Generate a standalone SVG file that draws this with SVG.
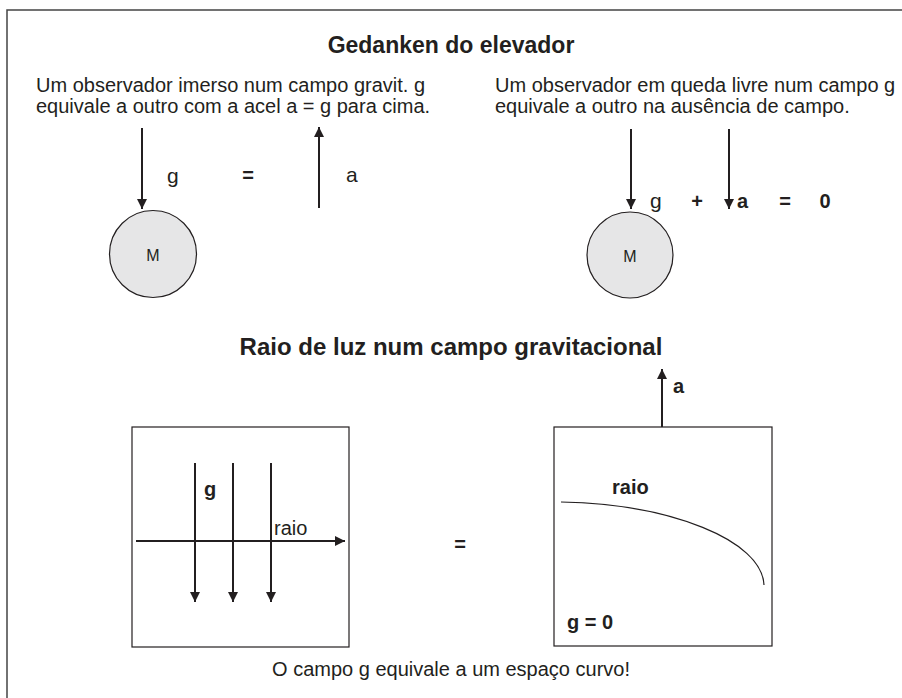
<svg xmlns="http://www.w3.org/2000/svg" width="902" height="698" viewBox="0 0 902 698">
<style>
text{font-family:"Liberation Sans",Arial,sans-serif;fill:#231f20}
.t{font-weight:bold;text-anchor:middle}
.p{font-size:20px}
.ln{stroke:#231f20;stroke-width:2;fill:none}
.box{stroke:#231f20;stroke-width:1.2;fill:none}
.planet{fill:#e6e6e7;stroke:#231f20;stroke-width:1.2}
</style>
<defs>
<marker id="ah" viewBox="0 0 10 10" refX="10" refY="5" markerWidth="10" markerHeight="10" markerUnits="userSpaceOnUse" orient="auto">
<path d="M0,0 L10,5 L0,10 z" fill="#231f20"/>
</marker>
</defs>
<rect width="902" height="698" fill="#fff"/>
<path d="M7,698 V10 H902" fill="none" stroke="#444" stroke-width="1.5"/>
<text class="t" x="451" y="53" font-size="23">Gedanken do elevador</text>
<g id="text-left">
<text class="p" x="36" y="92">Um observador imerso num campo gravit. g</text>
<text class="p" x="36" y="113">equivale a outro com a acel a = g para cima.</text>
</g>
<g id="text-right">
<text class="p" x="495" y="92">Um observador em queda livre num campo g</text>
<text class="p" x="495" y="113">equivale a outro na ausência de campo.</text>
</g>
<g id="planet-left">
<circle class="planet" cx="153" cy="254" r="43.5"/>
<text x="153" y="261" font-size="16" text-anchor="middle">M</text>
</g>
<g id="planet-right">
<circle class="planet" cx="630" cy="255" r="43"/>
<text x="630" y="262" font-size="16" text-anchor="middle">M</text>
</g>
<g id="box-left">
<rect class="box" x="132" y="427" width="217" height="220"/>
</g>
<g id="box-right">
<rect class="box" x="554" y="427" width="218" height="219"/>
<path d="M561,502 C670,504 762,540 764,585" stroke="#231f20" stroke-width="1.2" fill="none"/>
</g>
<g id="connectors">
<line class="ln" x1="142" y1="128" x2="142" y2="209" marker-end="url(#ah)"/>
<line class="ln" x1="319" y1="208" x2="319" y2="127" marker-end="url(#ah)"/>
<line class="ln" x1="631" y1="129" x2="631" y2="209" marker-end="url(#ah)"/>
<line class="ln" x1="729" y1="129" x2="729" y2="209" marker-end="url(#ah)"/>
<line class="ln" x1="195" y1="463" x2="195" y2="602" marker-end="url(#ah)"/>
<line class="ln" x1="233" y1="463" x2="233" y2="602" marker-end="url(#ah)"/>
<line class="ln" x1="271" y1="463" x2="271" y2="602" marker-end="url(#ah)"/>
<line class="ln" x1="136" y1="541" x2="345" y2="541" marker-end="url(#ah)"/>
<line class="ln" x1="662" y1="427" x2="662" y2="369" marker-end="url(#ah)"/>
</g>
<g id="labels">
<text x="167" y="183" font-size="21">g</text>
<text x="248" y="182" font-size="20" font-weight="bold" text-anchor="middle">=</text>
<text x="346" y="182" font-size="21">a</text>
<text x="650" y="208" font-size="21">g</text>
<text x="697" y="208" font-size="20" font-weight="bold" text-anchor="middle">+</text>
<text x="737" y="208" font-size="20" font-weight="bold">a</text>
<text x="785" y="208" font-size="20" font-weight="bold" text-anchor="middle">=</text>
<text x="825" y="208" font-size="20" font-weight="bold" text-anchor="middle">0</text>
<text class="t" x="451" y="355" font-size="24">Raio de luz num campo gravitacional</text>
<text x="204" y="496" font-size="20" font-weight="bold">g</text>
<text x="274" y="535" font-size="20">raio</text>
<text x="460" y="551" font-size="20" font-weight="bold" text-anchor="middle">=</text>
<text x="673" y="393" font-size="20" font-weight="bold">a</text>
<text x="612" y="494" font-size="20" font-weight="bold">raio</text>
<text x="567" y="629" font-size="20" font-weight="bold">g = 0</text>
<text class="p" x="451" y="676" text-anchor="middle">O campo g equivale a um espaço curvo!</text>
</g>
</svg>
